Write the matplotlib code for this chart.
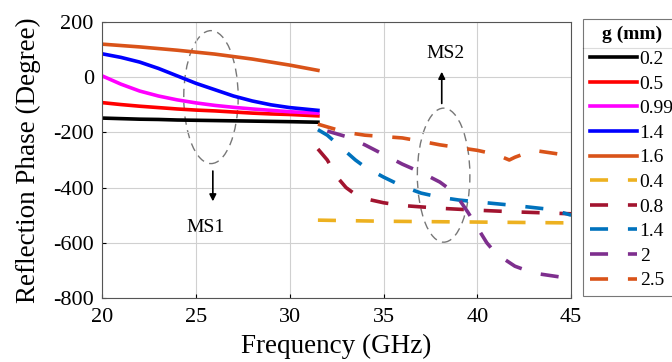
import matplotlib.pyplot as plt
from matplotlib.patches import Ellipse
from matplotlib.lines import Line2D

plt.rcParams['font.family'] = ['Liberation Serif', 'DejaVu Serif']
plt.rcParams['axes.unicode_minus'] = False

# solid curves (MS1), 20 - 31.5 GHz
f_ms1 = [20, 21, 22, 23, 24, 25, 26, 27, 28, 29, 30, 31.5]
ph_02 = [-148, -150, -152, -153, -155, -156, -157, -158, -159, -160, -161, -163]
ph_05 = [-92, -99, -105, -110, -115, -119, -122, -126, -130, -133, -135, -140]
ph_099 = [5, -25, -50, -68, -82, -93, -102, -109, -115, -120, -125, -130]
ph_14 = [85, 72, 55, 32, 5, -22, -45, -68, -86, -100, -110, -120]
ph_16 = [120, 115, 110, 104, 98, 91, 84, 75, 66, 55, 44, 25]

# dashed curves (MS2), 31.5 - 45 GHz
f_04 = [31.5, 35, 40, 45]
ph_04 = [-518, -522, -525, -528]
f_08 = [31.5, 32, 32.5, 33, 33.5, 34, 35, 36, 38, 40, 42, 45]
ph_08 = [-260, -300, -360, -400, -425, -440, -455, -465, -475, -482, -488, -495]
f_14b = [31.5, 32, 32.5, 33, 33.5, 34, 35, 36, 37, 38, 39, 40, 42, 44, 45]
ph_14b = [-190, -210, -240, -270, -300, -325, -362, -395, -420, -435, -445, -452, -465, -480, -500]
f_2 = [32, 33, 34, 35, 36, 37, 38, 38.5, 39, 39.5, 40, 40.5, 41, 42, 43, 44, 45]
ph_2 = [-195, -215, -245, -280, -315, -345, -380, -405, -440, -490, -545, -600, -640, -685, -710, -720, -730]
f_25 = [31.5, 32, 33, 34, 35, 36, 37, 38, 39, 40, 41, 41.7, 42, 43, 44, 45]
ph_25 = [-170, -180, -200, -210, -215, -220, -232, -245, -255, -265, -280, -300, -290, -265, -275, -285]

fig = plt.figure(figsize=(6.72, 3.62), dpi=100)
ax = fig.add_axes([0.152, 0.177, 0.698, 0.762])

lw = 2.6
solid = [(f_ms1, ph_02, 'black', '0.2'), (f_ms1, ph_05, '#ff0000', '0.5'),
         (f_ms1, ph_099, '#ff00ff', '0.99'), (f_ms1, ph_14, '#0000ff', '1.4'),
         (f_ms1, ph_16, '#d95319', '1.6')]
dashed = [(f_04, ph_04, '#edb120', '0.4'), (f_08, ph_08, '#a2142f', '0.8'),
          (f_14b, ph_14b, '#0072bd', '1.4'), (f_2, ph_2, '#7e2f8e', '2'),
          (f_25, ph_25, '#d95319', '2.5')]
for x, y, c, lab in solid:
    ax.plot(x, y, color=c, lw=lw, label=lab)
for x, y, c, lab in dashed:
    ax.plot(x, y, color=c, lw=lw, label=lab, dashes=(5, 5.5))

ax.set_xlim(20, 45)
ax.set_ylim(-800, 200)
ax.set_xticks([20, 25, 30, 35, 40, 45])
ax.set_yticks([-800, -600, -400, -200, 0, 200])
ax.grid(True, color='#d0d0d0', lw=0.8)
ax.tick_params(labelsize=16, direction='in', length=3)
ax.tick_params(axis='x', pad=7)
ax.tick_params(axis='y', pad=6)
for s in ax.spines.values():
    s.set_color('#555555')
ax.set_xlabel('Frequency (GHz)', fontsize=19.5, labelpad=5)
ax.set_ylabel('Reflection Phase (Degree)', fontsize=19.5, labelpad=9)

# annotations
ax.add_patch(Ellipse((25.8, -72), 2.9, 482, fill=False, ls=(0, (6, 4)), ec='#777777', lw=1))
ax.annotate('', xy=(25.9, -460), xytext=(25.9, -330),
            arrowprops=dict(arrowstyle='-|>', color='black', lw=1.2))
ax.text(25.5, -545, 'MS1', fontsize=14, ha='center', va='center')
ax.add_patch(Ellipse((38.2, -355), 2.8, 486, fill=False, ls=(0, (6, 4)), ec='#777777', lw=1))
ax.annotate('', xy=(38.1, 30), xytext=(38.1, -105),
            arrowprops=dict(arrowstyle='-|>', color='black', lw=1.2))
ax.text(38.3, 87, 'MS2', fontsize=14, ha='center', va='center')

leg = fig.legend(loc='upper left', bbox_to_anchor=(0.868, 0.947), fontsize=14,
                 title='g (mm)', title_fontproperties={'weight': 'bold', 'size': 14},
                 handlelength=2.4, handletextpad=0.15, labelspacing=0.36,
                 borderpad=0.35, frameon=True, fancybox=False, edgecolor='#555555',
                 borderaxespad=0)
leg.get_frame().set_linewidth(0.8)
fig.add_artist(Line2D([0.868, 1.0], [0.867, 0.867], color='#555555', lw=0.8))

fig.savefig('out.png', dpi=100)
